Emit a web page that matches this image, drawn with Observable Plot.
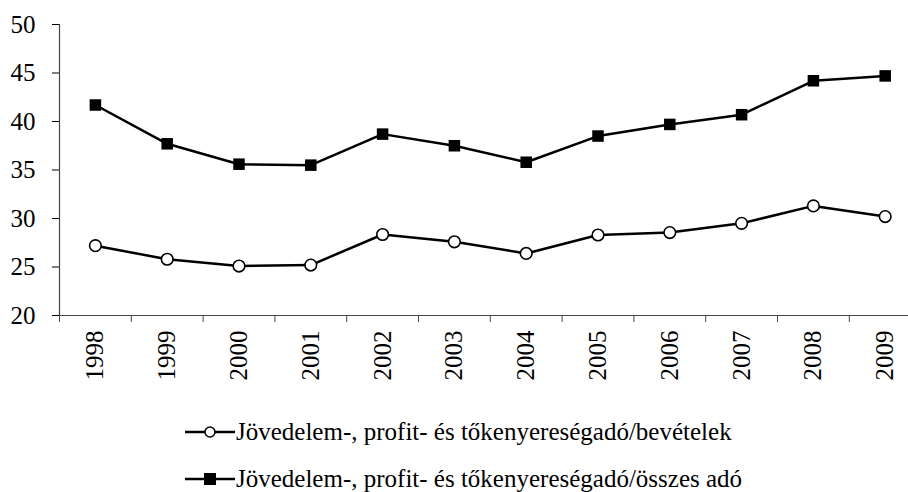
<!DOCTYPE html>
<html>
<head>
<meta charset="utf-8">
<script src="https://cdn.jsdelivr.net/npm/d3@7"></script>
<script src="https://cdn.jsdelivr.net/npm/@observablehq/plot@0.6"></script>
<style>
  body { margin: 0; background: #fff; font-family: "Liberation Serif", "Times New Roman", "DejaVu Serif"; }
  #wrap { position: relative; width: 908px; height: 492px; }
  .leg { position: absolute; left: 185px; display: flex; align-items: center; font-size: 25px; line-height: 30px; color: #000; white-space: nowrap; }
  .leg svg { margin-right: 1px; }
  svg text { font-family: "Liberation Serif", "Times New Roman", "DejaVu Serif"; }
</style>
</head>
<body>
<div id="wrap"></div>
<script>
const years = ["1998","1999","2000","2001","2002","2003","2004","2005","2006","2007","2008","2009"];
const revenueShare = [27.2, 25.8, 25.1, 25.2, 28.35, 27.6, 26.4, 28.3, 28.55, 29.5, 31.3, 30.2];
const totalTaxShare = [41.7, 37.7, 35.6, 35.5, 38.7, 37.5, 35.8, 38.5, 39.7, 40.7, 44.2, 44.7];
const yTicks = [20, 25, 30, 35, 40, 45, 50];
const seriesNames = [
  "Jövedelem-, profit- és tőkenyereségadó/bevételek",
  "Jövedelem-, profit- és tőkenyereségadó/összes adó"
];

const circ = years.map((y, i) => ({i: i + 0.5, v: revenueShare[i]}));
const sq = years.map((y, i) => ({i: i + 0.5, v: totalTaxShare[i]}));
const bounds = d3.range(0, years.length + 1);
const centers = years.map((y, i) => i + 0.5);

const chart = Plot.plot({
  width: 908,
  height: 400,
  marginLeft: 59,
  marginRight: 0,
  marginTop: 24,
  marginBottom: 85,
  style: {fontFamily: "Liberation Serif, Times New Roman, DejaVu Serif", fontSize: "25px", color: "#000", background: "#fff"},
  x: {type: "linear", domain: [0, years.length], range: [59, 920.6], label: null},
  y: {domain: [20, 50], range: [315, 24], label: null},
  marks: [
    Plot.ruleY(yTicks.filter(t => t > 20), {y: d => d, x1: 59, x2: 908, stroke: "#444", strokeWidth: 1, strokeDasharray: "1.5,1"}),
    Plot.axisY({ticks: yTicks, tickSize: 7, tickPadding: 17, tickFormat: d => String(d), fontSize: 25, label: null}),
    Plot.ruleX([0], {y1: 20, y2: 50, stroke: "#444", strokeWidth: 1.2}),
    Plot.ruleY([20], {stroke: "#444", strokeWidth: 1.2}),
    Plot.axisX({ticks: bounds, tickSize: 7, tickFormat: () => "", stroke: "#444", label: null}),
    Plot.axisX({ticks: centers, tickSize: 0, tickRotate: -90, tickPadding: 15, tickFormat: d => years[Math.round(d - 0.5)], fontSize: 25, label: null}),
    Plot.line(sq, {x: "i", y: "v", stroke: "#000", strokeWidth: 2.5}),
    Plot.dot(sq, {x: "i", y: "v", symbol: "square", r: 6.5, fill: "#000", stroke: "#000", strokeWidth: 0}),
    Plot.line(circ, {x: "i", y: "v", stroke: "#000", strokeWidth: 2.5}),
    Plot.dot(circ, {x: "i", y: "v", symbol: "circle", r: 5.8, fill: "#fff", stroke: "#000", strokeWidth: 1.6})
  ]
});
const wrap = document.getElementById("wrap");
wrap.appendChild(chart);

function legendRow(name, symbol, top) {
  const div = document.createElement("div");
  div.className = "leg";
  div.style.top = top + "px";
  const marker = symbol === "circle"
    ? '<circle cx="25" cy="15" r="5" fill="#fff" stroke="#000" stroke-width="1.5"/>'
    : '<rect x="19" y="9" width="12" height="12" fill="#000"/>';
  div.innerHTML = '<svg width="50" height="30"><line x1="0" x2="50" y1="15" y2="15" stroke="#000" stroke-width="2.5"/>' + marker + '</svg><span>' + name + '</span>';
  wrap.appendChild(div);
}
legendRow(seriesNames[0], "circle", 417);
legendRow(seriesNames[1], "square", 464);
</script>
</body>
</html>
